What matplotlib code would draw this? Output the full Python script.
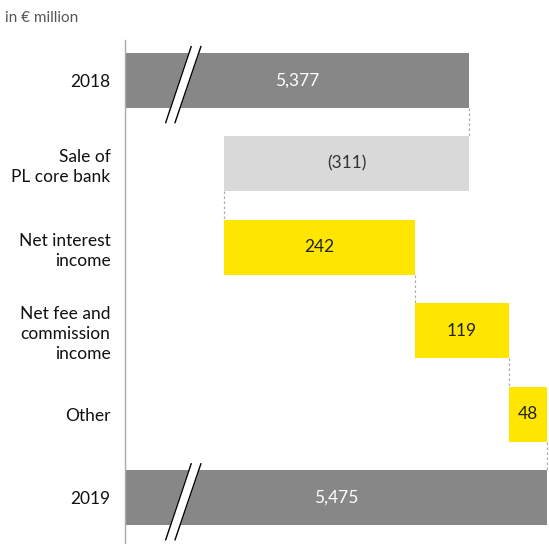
import matplotlib
matplotlib.use("Agg")
import matplotlib.pyplot as plt
import matplotlib.transforms as mtransforms

# data (in EUR million)
categories = ["2018", "Sale of\nPL core bank", "Net interest\nincome",
              "Net fee and\ncommission\nincome", "Other", "2019"]
values = [5377, -311, 242, 119, 48, 5475]
value_labels = ["5,377", "(311)", "242", "119", "48", "5,475"]
kinds = ["total", "neg", "pos", "pos", "pos", "total"]

colors = {"total": "#878787", "neg": "#d9d9d9", "pos": "#ffe600"}
text_colors = {"total": "white", "neg": "#333333", "pos": "#222222"}

plt.rcParams['font.family'] = ['Lato', 'DejaVu Sans']

fig = plt.figure(figsize=(5.49, 5.44), dpi=100)
ax = fig.add_axes([125 / 549, 0, 1 - 125 / 549, (544 - 40) / 544])

xmin, xmax = 4940, 5478
bar_h = 0.66

# compute waterfall starts / ends
starts, ends = [], []
running = 0
for v, k in zip(values, kinds):
    if k == "total":
        starts.append(xmin)
        ends.append(v)
        running = v
    else:
        starts.append(running)
        running = running + v
        ends.append(running)

for i, (s, e, k) in enumerate(zip(starts, ends, kinds)):
    left = min(s, e)
    width = abs(e - s)
    ax.barh(i, width, left=left, height=bar_h, color=colors[k], edgecolor="none")
    ax.text(left + width / 2, i, value_labels[i], ha="center", va="center",
            fontsize=12.5, color=text_colors[k])

# dotted connectors between bars
for i in range(len(values) - 1):
    if kinds[i] == "neg":
        xc = min(starts[i], ends[i])
    else:
        xc = ends[i] if kinds[i] == "total" else max(starts[i], ends[i])
    ax.plot([xc, xc], [i + bar_h / 2, i + 1 - bar_h / 2], color="#aaaaaa",
            lw=0.9, linestyle=(0, (2, 2)), zorder=1)

# axis break marks on the total bars
trans = mtransforms.blended_transform_factory(ax.transAxes, ax.transData)
for i in [0, 5]:
    yb, yt = i + 0.506, i - 0.405
    ax.fill([0.096, 0.156, 0.179, 0.118], [yb, yt, yt, yb], color="white",
            transform=trans, clip_on=False, zorder=3)
    ax.plot([0.096, 0.156], [yb, yt], color="black", lw=1.0, transform=trans,
            clip_on=False, zorder=4)
    ax.plot([0.118, 0.179], [yb, yt], color="black", lw=1.0, transform=trans,
            clip_on=False, zorder=4)

ax.set_xlim(xmin, xmax)
ax.set_ylim(5.556, -0.484)
ax.set_yticks(range(len(categories)))
ax.set_yticklabels(categories, fontsize=12.5, color="#111111", linespacing=1.3)
ax.set_xticks([])
ax.tick_params(axis="y", length=0, pad=10.5)
for sp in ["top", "right", "bottom"]:
    ax.spines[sp].set_visible(False)
ax.spines["left"].set_color("#aaaaaa")
ax.spines["left"].set_linewidth(1.0)

fig.text(5 / 549, 1 - 18 / 544, "in € million", fontsize=11, color="#555555",
         ha="left", va="center")

fig.savefig("out.png", dpi=100)
